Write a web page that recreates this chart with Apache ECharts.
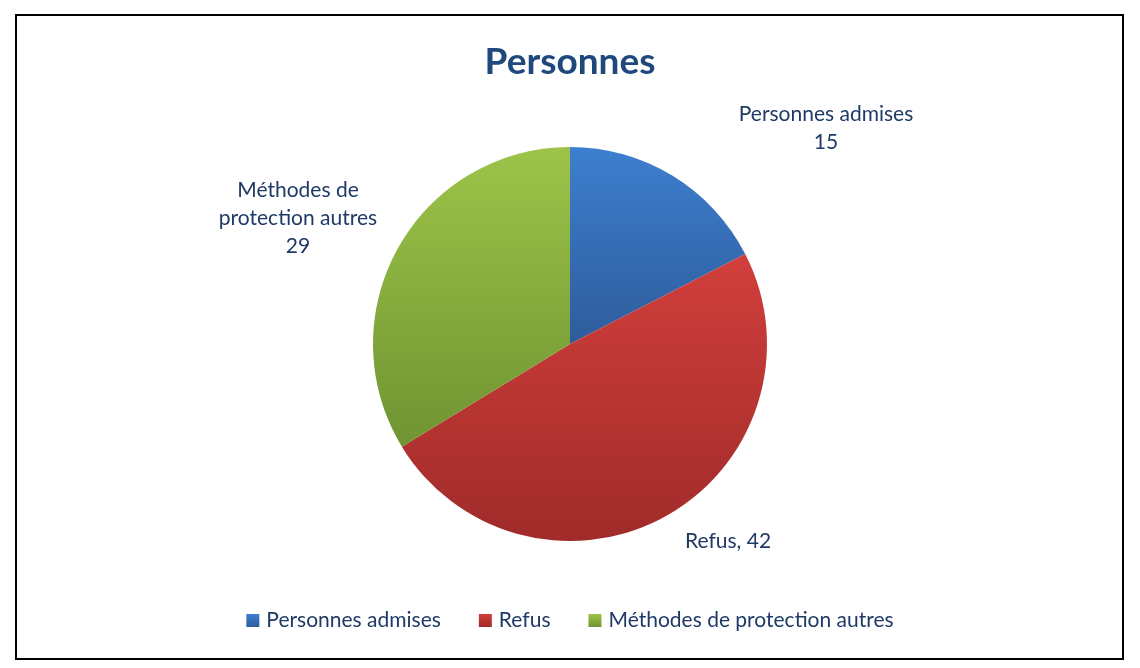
<!DOCTYPE html>
<html><head><meta charset="utf-8">
<script src="https://cdn.jsdelivr.net/npm/echarts@6/dist/echarts.min.js"></script>
<style>html,body{margin:0;padding:0;background:#fff}#c{width:1140px;height:668px}</style>
</head><body><div id="c"></div>
<script>
const categories = ['Personnes admises', 'Refus', 'Méthodes de protection autres'];
const values = [15, 42, 29];
const labelTexts = ['Personnes admises\n15', 'Refus, 42', 'Méthodes de\nprotection autres\n29'];
const topColors = ['#3D7FCF', '#D13F3C', '#9DC449'];
const bottomColors = ['#2E5C9B', '#A02B29', '#6F9432'];
const labelPos = [[826, 128], [728, 541], [298, 218]];

const FONT = 'Lato, "Open Sans", sans-serif';
const TXT = '#1F3A66';

const chart = echarts.init(document.getElementById('c'));
chart.setOption({
  animation: false,
  backgroundColor: '#fff',
  title: {
    text: 'Personnes', left: 'center', top: 39,
    textStyle: { fontFamily: FONT, fontSize: 37, fontWeight: 'bold', color: '#1F497D' }
  },
  graphic: [{
    type: 'rect', shape: { x: 16, y: 15, width: 1107, height: 644 },
    style: { fill: 'none', stroke: '#000', lineWidth: 2 }, z: 100
  }],
  legend: {
    bottom: 32, left: 'center', itemWidth: 13, itemHeight: 13, itemGap: 38,
    icon: 'rect',
    textStyle: { fontFamily: FONT, fontSize: 21, color: TXT, padding: [0, 0, 0, 2] },
    data: categories
  },
  series: [{
    type: 'pie',
    center: [570, 344], radius: 197,
    startAngle: 90, clockwise: true,
    data: categories.map((n, i) => ({
      name: n, value: values[i],
      itemStyle: { color: new echarts.graphic.LinearGradient(0, 0, 0, 1, [
        { offset: 0, color: topColors[i] }, { offset: 1, color: bottomColors[i] }]) },
      label: { formatter: labelTexts[i] }
    })),
    label: {
      show: true, position: 'outside', fontFamily: FONT, fontSize: 21, lineHeight: 28,
      color: TXT, align: 'center'
    },
    labelLine: { show: false },
    labelLayout: function (p) {
      const pos = labelPos[p.dataIndex];
      return { x: pos[0], y: pos[1], align: 'center', verticalAlign: 'middle' };
    }
  }]
});
</script></body></html>
